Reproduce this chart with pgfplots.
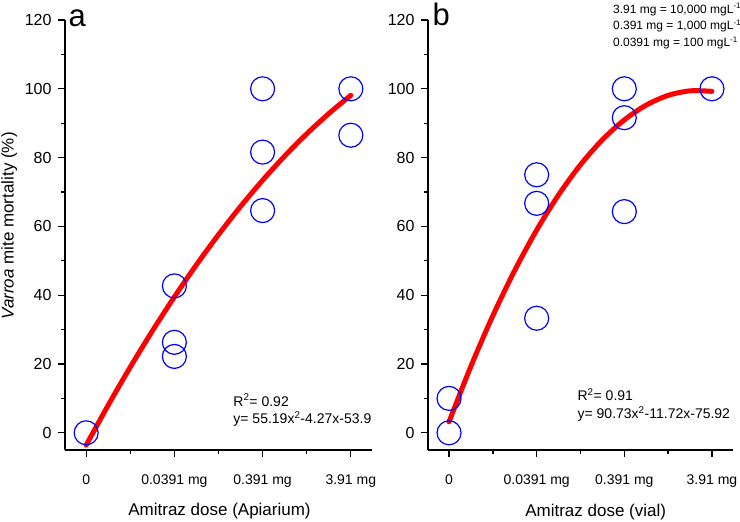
\documentclass[border=0pt]{standalone}
\usepackage{pgfplots}
\pgfplotsset{compat=1.18}
\usepackage{fontspec}
\setmainfont{Liberation Sans}

\pgfplotsset{
 common/.style={
  scale only axis, width=307pt, height=430pt,
  xmin=-0.24, xmax=3.24, ymin=-5, ymax=120,
  axis x line*=bottom, axis y line*=left,
  axis line style={line width=1.3pt,-},
  tick align=outside,
  major tick length=7pt, minor tick length=4pt,
  tick style={line width=1.3pt, black},
  xtick={0,1,2,3}, xticklabels={0,0.0391 mg,0.391 mg,3.91 mg},
  minor x tick num=1,
  ytick={0,20,...,120}, minor y tick num=1,
  /pgf/number format/assume math mode=true,
  yticklabel style={font=\fontsize{16}{18}\selectfont, xshift=-3pt},
  xticklabel style={font=\fontsize{14}{16}\selectfont, yshift=-14pt},
  clip=false,
 },
 pts/.style={only marks, mark=o, mark size=12pt, blue, line width=1.2pt},
 fit/.style={red, line width=5pt, smooth, no marks, line cap=round},
}
\tikzset{
 lab/.style={font=\fontsize{17}{19}\selectfont, anchor=west, inner sep=0pt},
 eq/.style={anchor=west, inner sep=0pt, font=\fontsize{14}{16}\selectfont},
}

\begin{document}
\begin{tikzpicture}
% panel a
\begin{axis}[common, at={(0pt,0pt)}, anchor=south west,
  ylabel={\textit{Varroa} mite mortality (\%)},
  ylabel style={font=\fontsize{17}{19}\selectfont, at={(axis description cs:-0.182,0.521)}, anchor=center},
]
\addplot[pts] coordinates {(0,0) (1,42.7) (1,26.3) (1,22.2) (2,100) (2,81.6) (2,64.6) (3,100) (3,86.5)};
\addplot[fit] coordinates {(0,-3.6) (0.25,8.04) (0.5,19.1) (0.75,29.59) (1,39.5) (1.25,48.84) (1.5,57.6) (1.75,65.79) (2,73.4) (2.25,80.44) (2.5,86.9) (2.75,92.79) (3,98.1)};
\node[eq] at (axis cs:1.667,9.5) {R\textsuperscript{2}= 0.92};
\node[eq] at (axis cs:1.667,3.9) {y= 55.19x\textsuperscript{2}-4.27x-53.9};
\node[anchor=center, font=\fontsize{31}{33}\selectfont, inner sep=0pt] at (axis cs:-0.10,120.5) {a};
\node[lab] at (axis cs:0.476,-22.8) {Amitraz dose (Apiarium)};
\end{axis}
% panel b
\begin{axis}[common, at={(363pt,0pt)}, width=305pt, anchor=south west]
\addplot[pts] coordinates {(0,10) (0,0) (1,75) (1,66.7) (1,33.3) (2,100) (2,91.6) (2,64.3) (3,100)};
\addplot[fit] coordinates {(0,3.2) (0.25,19.36) (0.5,34.04) (0.75,47.23) (1,58.94) (1.25,69.17) (1.5,77.92) (1.75,85.18) (2,90.96) (2.25,95.26) (2.5,98.08) (2.75,99.41) (3,99.26)};
\node[eq] at (axis cs:1.465,11.0) {R\textsuperscript{2}= 0.91};
\node[eq] at (axis cs:1.465,5.4) {y= 90.73x\textsuperscript{2}-11.72x-75.92};
\node[anchor=center, font=\fontsize{31}{33}\selectfont, inner sep=0pt] at (axis cs:-0.09,121.7) {b};
\node[anchor=west, font=\fontsize{12}{14}\selectfont, inner sep=0pt] at (axis cs:1.87,123.1) {3.91 mg = 10,000 mgL\textsuperscript{-1}};
\node[anchor=west, font=\fontsize{12}{14}\selectfont, inner sep=0pt] at (axis cs:1.87,118.3) {0.391 mg = 1,000 mgL\textsuperscript{-1}};
\node[anchor=west, font=\fontsize{12}{14}\selectfont, inner sep=0pt] at (axis cs:1.87,113.4) {0.0391 mg = 100 mgL\textsuperscript{-1}};
\node[lab] at (axis cs:0.868,-23.0) {Amitraz dose (vial)};
\end{axis}
\pgfresetboundingbox
\useasboundingbox (-65pt,-72pt) rectangle (675pt,450pt);
\end{tikzpicture}
\end{document}
